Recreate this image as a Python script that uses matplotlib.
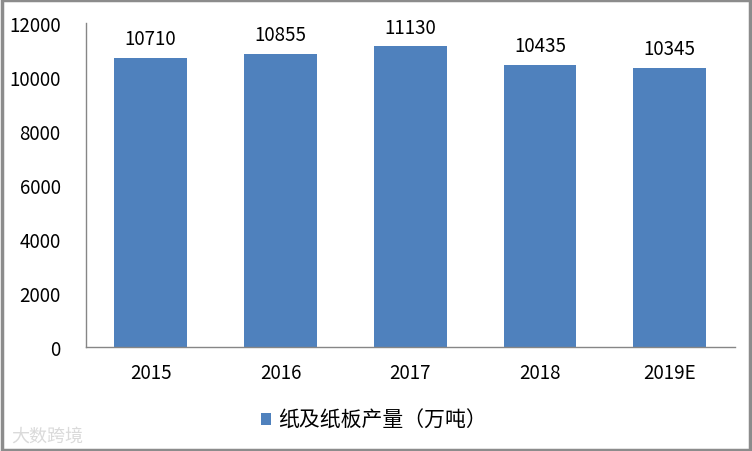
import numpy as np
import matplotlib
matplotlib.use("Agg")
from matplotlib import pyplot as plt
from matplotlib.patches import Rectangle

plt.rcParams['font.family'] = ['Noto Sans CJK SC', 'DejaVu Sans']

# Data
years = ["2015", "2016", "2017", "2018", "2019E"]
output = [10710, 10855, 11130, 10435, 10345]
seriesName = "纸及纸板产量（万吨）"
yTicks = [0, 2000, 4000, 6000, 8000, 10000, 12000]

barColor = "#4F81BD"
axisColor = "#868686"

fig = plt.figure(figsize=(7.52, 4.52), dpi=100)
ax = fig.add_axes([0.114, 0.230, 0.863, 0.717])

# Draw bars and value labels
x = np.arange(len(years))
bars = ax.bar(x, output, width=0.56, color=barColor, label=seriesName)
for xi, val in zip(x, output):
    ax.text(xi, val + 330, str(val), ha="center", va="bottom", fontsize=13.5, color="black")

ax.set_xlim(-0.5, len(years) - 0.5)
ax.set_ylim(0, 12000)
ax.set_xticks(x)
ax.set_xticklabels(years, fontsize=13.5)
ax.set_yticks(yTicks)
ax.set_yticklabels([str(t) for t in yTicks], fontsize=13.5)
ax.tick_params(axis="both", length=0)
ax.tick_params(axis="x", pad=11)
ax.tick_params(axis="y", pad=18)

# Only left and bottom axis lines
for side in ["top", "right"]:
    ax.spines[side].set_visible(False)
for side in ["left", "bottom"]:
    ax.spines[side].set_color(axisColor)
    ax.spines[side].set_linewidth(1)

# Legend below the chart
fig.legend(handles=[bars], labels=[seriesName], loc="center", bbox_to_anchor=(0.497, 0.068),
           frameon=False, fontsize=15, handlelength=0.5, handleheight=0.5, handletextpad=0.3)

# Gray frame around the whole picture
fig.patches.append(Rectangle((0.002, 0.003), 0.996, 0.994, transform=fig.transFigure,
                             fill=False, edgecolor="#8c8c8c", linewidth=2.5))

# Faint watermark
fig.text(0.015, 0.022, "大数跨境", fontsize=13, color="#dadada")

fig.savefig("out.png", dpi=100)
